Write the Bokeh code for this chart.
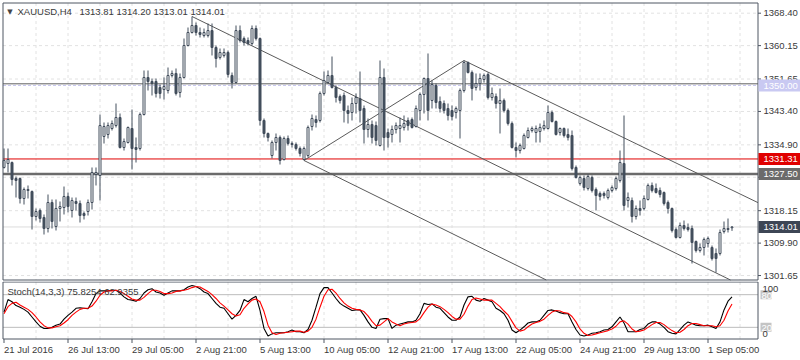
from bokeh.plotting import figure
from bokeh.layouts import column
from bokeh.models import ColumnDataSource
from bokeh.embed import file_html
from bokeh.resources import INLINE
from bokeh.core.properties import value

# ---------------- data ----------------
opens = [1329.14, 1330.16, 1330.41, 1326.34, 1326.34, 1321.25, 1323.54, 1323.03, 1316.67, 1318.20,
         1316.42, 1313.62, 1320.23, 1314.13, 1318.71, 1318.96, 1321.76, 1318.20, 1320.49, 1319.98,
         1317.43, 1317.94, 1320.23, 1327.36, 1327.10, 1337.03, 1337.53, 1339.06, 1339.82, 1341.86,
         1334.23, 1335.50, 1339.06, 1334.23, 1333.97, 1342.62, 1352.04, 1351.02, 1351.02, 1349.49,
         1348.98, 1348.73, 1352.55, 1353.06, 1348.22, 1352.04, 1360.18, 1363.49, 1365.27, 1363.49,
         1362.72, 1362.72, 1363.99, 1359.67, 1357.13, 1357.64, 1358.40, 1352.55, 1350.76, 1363.99,
         1361.96, 1361.45, 1360.69, 1364.50, 1361.96, 1341.10, 1337.79, 1332.19, 1335.50, 1336.77,
         1331.17, 1336.52, 1335.24, 1334.99, 1333.97, 1331.17, 1332.19, 1339.57, 1341.35, 1341.10,
         1347.97, 1350.76, 1352.55, 1349.49, 1347.20, 1347.46, 1343.64, 1343.13, 1345.42, 1346.69,
         1344.15, 1338.81, 1340.08, 1339.82, 1334.74, 1352.04, 1338.04, 1337.53, 1338.81, 1339.06,
         1339.32, 1341.10, 1341.35, 1339.57, 1343.64, 1347.71, 1351.78, 1346.19, 1350.00, 1345.93,
         1345.42, 1344.15, 1343.64, 1343.13, 1343.64, 1348.73, 1355.85, 1353.31, 1349.49, 1350.51,
         1351.53, 1352.80, 1346.95, 1347.20, 1345.42, 1346.19, 1343.64, 1340.33, 1334.23, 1333.46,
         1333.97, 1336.77, 1338.55, 1338.04, 1338.30, 1339.06, 1339.06, 1343.13, 1340.84, 1338.04,
         1339.06, 1337.53, 1337.28, 1329.14, 1325.07, 1326.34, 1323.79, 1326.59, 1323.54, 1322.52,
         1322.52, 1321.50, 1323.29, 1323.79, 1325.83, 1330.16, 1320.74, 1320.74, 1316.67, 1318.71,
         1318.71, 1321.00, 1324.56, 1323.79, 1323.29, 1322.78, 1320.23, 1318.71, 1313.36, 1311.33,
         1314.38, 1313.87, 1313.62, 1310.31, 1308.02, 1308.78, 1309.80, 1308.78, 1307.26, 1307.26,
         1312.85, 1313.36, 1313.81]
highs = [1333.97, 1333.97, 1330.66, 1326.85, 1326.59, 1324.05, 1324.56, 1323.29, 1318.71, 1318.71,
         1317.18, 1322.27, 1321.00, 1321.00, 1320.49, 1324.30, 1322.78, 1321.50, 1321.50, 1320.74,
         1317.94, 1321.00, 1329.14, 1329.14, 1342.62, 1340.59, 1340.59, 1341.10, 1345.42, 1342.88,
         1336.52, 1339.57, 1343.89, 1336.77, 1343.13, 1353.82, 1353.82, 1351.78, 1351.78, 1350.25,
         1352.04, 1354.58, 1353.82, 1354.33, 1353.06, 1361.96, 1364.76, 1367.56, 1366.03, 1364.76,
         1364.50, 1365.78, 1365.78, 1360.18, 1359.42, 1359.42, 1358.91, 1353.31, 1365.27, 1365.27,
         1362.47, 1362.22, 1365.27, 1365.27, 1362.22, 1341.61, 1338.04, 1336.01, 1337.79, 1337.28,
         1337.03, 1337.28, 1335.75, 1335.50, 1334.48, 1334.48, 1339.82, 1342.62, 1342.37, 1348.47,
         1353.56, 1353.82, 1357.38, 1350.00, 1347.71, 1348.22, 1344.91, 1346.95, 1347.97, 1353.56,
         1344.91, 1341.61, 1341.10, 1340.84, 1356.36, 1354.33, 1339.06, 1339.82, 1340.59, 1341.86,
         1342.37, 1341.86, 1341.86, 1344.91, 1348.22, 1352.04, 1358.15, 1351.27, 1350.51, 1347.20,
         1346.19, 1345.42, 1344.91, 1344.66, 1349.24, 1356.36, 1356.11, 1353.82, 1353.06, 1353.06,
         1353.06, 1353.31, 1349.49, 1347.97, 1349.24, 1346.69, 1344.15, 1340.84, 1335.50, 1335.24,
         1337.79, 1339.32, 1339.57, 1339.82, 1340.33, 1341.10, 1344.91, 1343.64, 1341.10, 1339.32,
         1339.32, 1339.06, 1338.55, 1329.65, 1327.10, 1327.10, 1327.36, 1327.10, 1324.05, 1323.03,
         1323.03, 1323.79, 1324.56, 1326.85, 1333.46, 1342.37, 1322.78, 1321.50, 1319.47, 1320.74,
         1322.01, 1325.07, 1325.32, 1325.07, 1324.05, 1323.03, 1320.74, 1318.96, 1313.87, 1315.14,
         1315.65, 1314.89, 1314.38, 1310.56, 1309.80, 1311.33, 1311.58, 1309.29, 1308.53, 1313.36,
         1315.40, 1316.16, 1314.20]
lows = [1328.88, 1327.87, 1324.56, 1321.50, 1319.98, 1319.72, 1321.25, 1313.36, 1315.65, 1315.14,
        1312.09, 1312.60, 1313.62, 1313.11, 1315.40, 1317.18, 1317.69, 1316.42, 1318.20, 1315.14,
        1315.91, 1316.92, 1318.45, 1324.56, 1320.74, 1335.24, 1336.52, 1338.55, 1339.32, 1333.97,
        1333.46, 1335.24, 1328.63, 1330.41, 1333.46, 1342.37, 1348.73, 1347.46, 1346.95, 1346.69,
        1346.44, 1347.97, 1352.04, 1347.46, 1346.95, 1351.78, 1359.93, 1363.23, 1362.72, 1362.22,
        1362.22, 1362.22, 1357.64, 1354.58, 1356.62, 1357.13, 1352.04, 1349.24, 1350.51, 1360.94,
        1360.18, 1360.18, 1360.18, 1361.45, 1339.82, 1336.77, 1335.75, 1331.43, 1333.46, 1329.90,
        1330.92, 1334.74, 1334.23, 1333.46, 1331.94, 1330.92, 1331.68, 1338.55, 1339.32, 1340.59,
        1347.46, 1350.51, 1349.24, 1345.68, 1345.42, 1340.59, 1340.33, 1341.10, 1342.88, 1340.59,
        1335.24, 1336.77, 1335.24, 1334.74, 1334.48, 1333.46, 1334.23, 1335.50, 1337.79, 1335.50,
        1338.55, 1338.55, 1339.06, 1339.32, 1341.10, 1342.88, 1341.10, 1344.15, 1344.15, 1343.13,
        1342.88, 1341.10, 1341.10, 1341.61, 1336.52, 1348.22, 1353.06, 1346.19, 1348.73, 1348.73,
        1350.76, 1346.44, 1346.19, 1344.15, 1337.79, 1343.13, 1339.82, 1333.97, 1331.68, 1332.70,
        1333.72, 1336.52, 1338.04, 1335.50, 1335.50, 1338.55, 1338.81, 1340.59, 1337.28, 1337.28,
        1336.77, 1336.01, 1328.37, 1326.34, 1324.56, 1323.29, 1323.29, 1322.78, 1318.20, 1320.74,
        1321.25, 1321.00, 1322.78, 1323.29, 1325.32, 1318.20, 1318.96, 1315.14, 1315.91, 1316.92,
        1318.20, 1320.74, 1322.78, 1322.52, 1321.50, 1319.47, 1317.43, 1312.60, 1311.07, 1311.07,
        1313.11, 1312.85, 1304.71, 1307.51, 1307.51, 1306.75, 1308.78, 1305.47, 1302.42, 1306.75,
        1312.34, 1312.60, 1313.01]
closes = [1330.92, 1331.17, 1326.08, 1325.83, 1321.25, 1323.54, 1323.29, 1316.67, 1317.94, 1316.16,
          1313.62, 1320.23, 1315.40, 1318.71, 1319.21, 1321.76, 1319.21, 1320.74, 1319.98, 1316.92,
          1316.92, 1320.23, 1327.87, 1327.87, 1339.82, 1339.57, 1339.82, 1340.33, 1341.86, 1334.23,
          1335.75, 1339.32, 1333.97, 1333.72, 1342.62, 1352.04, 1351.02, 1350.51, 1347.97, 1347.97,
          1349.75, 1352.55, 1353.06, 1347.97, 1352.04, 1360.18, 1363.49, 1365.27, 1363.49, 1362.98,
          1363.49, 1363.99, 1359.67, 1356.87, 1358.40, 1358.40, 1352.80, 1350.76, 1363.99, 1361.45,
          1360.94, 1360.69, 1364.50, 1361.96, 1341.10, 1337.79, 1336.77, 1335.50, 1336.77, 1330.92,
          1336.52, 1335.24, 1334.99, 1333.97, 1332.70, 1333.97, 1339.32, 1341.61, 1340.59, 1347.97,
          1351.27, 1352.55, 1349.49, 1346.95, 1346.19, 1343.64, 1342.88, 1345.42, 1346.95, 1343.64,
          1338.81, 1340.08, 1336.77, 1336.01, 1352.04, 1336.77, 1336.77, 1338.81, 1339.82, 1339.82,
          1340.33, 1339.82, 1339.32, 1344.15, 1347.71, 1351.78, 1343.64, 1350.25, 1345.68, 1344.15,
          1343.64, 1342.37, 1342.11, 1344.15, 1348.73, 1355.85, 1353.31, 1349.24, 1350.51, 1351.78,
          1352.55, 1346.95, 1347.97, 1345.42, 1346.19, 1343.64, 1340.33, 1334.23, 1333.46, 1334.74,
          1337.28, 1338.55, 1339.06, 1339.06, 1339.32, 1339.82, 1343.13, 1340.84, 1337.53, 1339.06,
          1337.28, 1336.77, 1328.88, 1326.59, 1326.59, 1324.05, 1326.85, 1323.29, 1322.01, 1321.76,
          1322.01, 1323.29, 1324.05, 1326.34, 1330.41, 1319.47, 1321.50, 1316.67, 1318.71, 1318.20,
          1321.25, 1324.56, 1323.29, 1322.78, 1322.27, 1319.98, 1318.71, 1313.11, 1311.33, 1314.38,
          1313.62, 1313.36, 1310.05, 1308.02, 1308.78, 1310.82, 1311.07, 1305.98, 1305.98, 1312.60,
          1313.62, 1313.62, 1314.01]

# Stochastic (14,3,3): %K (black) and %D (red)
stoch_k = [48, 71, 67, 60, 57, 53, 48, 39, 30, 22, 18, 18, 20, 24, 26, 35, 42, 48, 55, 56,
           55, 54, 67, 82, 87, 87, 87, 88, 88, 83, 76, 71, 70, 68, 73, 83, 89, 91, 85, 83,
           79, 83, 87, 87, 87, 89, 94, 97, 95, 91, 85, 82, 73, 64, 57, 55, 45, 35, 42, 51,
           71, 67, 73, 77, 51, 18, 4, 8, 10, 10, 10, 12, 15, 12, 12, 10, 16, 33, 57, 82,
           93, 93, 83, 73, 64, 59, 55, 51, 52, 52, 42, 30, 20, 18, 35, 36, 36, 18, 24, 26,
           28, 30, 30, 33, 45, 64, 62, 63, 57, 55, 47, 39, 33, 33, 39, 61, 76, 77, 70, 68,
           73, 70, 67, 55, 51, 45, 33, 15, 10, 15, 21, 28, 30, 30, 33, 42, 51, 52, 50, 47,
           45, 45, 30, 16, 6, 4, 6, 9, 10, 12, 15, 16, 21, 30, 39, 28, 12, 12, 12, 16,
           18, 26, 30, 30, 26, 20, 12, 9, 8, 16, 24, 30, 27, 24, 23, 23, 24, 21, 18, 30,
           52, 68, 75.83]
stoch_d = [45, 58, 64, 66, 61, 57, 53, 47, 39, 30, 23, 19, 19, 21, 23, 28, 34, 42, 48, 53,
           55, 55, 59, 68, 79, 85, 87, 87, 88, 86, 82, 77, 72, 70, 70, 75, 82, 88, 88, 86,
           82, 82, 83, 86, 87, 88, 90, 93, 95, 94, 90, 86, 80, 73, 65, 59, 52, 45, 41, 43,
           55, 63, 70, 72, 67, 49, 24, 10, 7, 9, 10, 11, 12, 13, 13, 11, 13, 20, 35, 57,
           77, 89, 90, 83, 73, 65, 59, 55, 53, 52, 49, 41, 31, 23, 24, 30, 36, 30, 26, 23,
           26, 28, 29, 30, 36, 47, 57, 63, 61, 58, 53, 47, 40, 35, 35, 44, 59, 71, 74, 72,
           70, 70, 70, 64, 58, 50, 43, 31, 19, 13, 15, 21, 26, 29, 31, 35, 42, 48, 51, 50,
           47, 46, 40, 30, 17, 9, 5, 6, 8, 10, 12, 14, 17, 22, 30, 32, 26, 17, 12, 13,
           15, 20, 25, 29, 29, 25, 19, 14, 10, 11, 16, 23, 27, 27, 25, 23, 23, 23, 21, 23,
           33, 50, 62.94]

# trend / channel lines (bar index, price)
trend_x0 = [47, 75, 75, 115]
trend_y0 = [1367.56, 1330.92, 1330.92, 1356.36]
trend_x1 = [189, 189, 115, 189]
trend_y1 = [1296.84, 1273.69, 1356.36, 1319.95]

# horizontal levels
level_1350_line = 1350.43
level_1350_alert = 1350.00
level_resist = 1331.31
level_support = 1327.50
last_price = 1314.01

price_ticks = [1368.40, 1360.15, 1351.65, 1343.40, 1334.90, 1326.65, 1318.15, 1309.90, 1301.65]
stoch_levels = [80, 20]
time_tick_bars = [0, 16, 32, 48, 64, 80, 96, 112, 128, 144, 160, 176]
time_tick_labels = ["21 Jul 2016", "26 Jul 13:00", "29 Jul 05:00", "2 Aug 21:00", "5 Aug 13:00",
                    "10 Aug 05:00", "12 Aug 21:00", "17 Aug 13:00", "22 Aug 05:00",
                    "24 Aug 21:00", "29 Aug 13:00", "1 Sep 05:00"]
title_symbol = "XAUUSD,H4"
title_ohlc = "1313.81 1314.20 1313.01 1314.01"
stoch_title = "Stoch(14,3,3) 75.8254 62.9355"

# ---------------- geometry / styling ----------------
CANDLE = "#434e5d"
FRAME = "#4e5663"
GRID = "#e2e2e2"
TXT = "#3a3a3a"
FONT = "Liberation Sans"
FS = "9.5px"

W, H_MAIN, H_STO = 800, 281, 79
BAR_PX = 4.0            # pixels per bar
BAR0_PX = 3.5           # pixel centre of bar 0
PRICE_PER_PX = 0.25444  # price scale of main panel
PRICE_AT_TOP = 1371.63  # price at pixel row 0
STO_PER_PX = 1.83684    # stochastic units per pixel
STO_AT_TOP = 104.2      # stochastic value at top of lower panel (abs. row 281)

BL, BR = 2.5, 757.5          # border columns (both panels)
MT, MB = 2.5, 279.5          # main border rows
ST, SB = 281.5, 338.5        # stochastic border rows (absolute)


def X(px):
    return (px - BAR0_PX) / BAR_PX


def MY(py):
    return PRICE_AT_TOP - py * PRICE_PER_PX


def SY(py):
    return STO_AT_TOP - (py - H_MAIN) * STO_PER_PX


bars = list(range(len(opens)))
src = ColumnDataSource(dict(
    x=bars, o=opens, h=highs, l=lows, c=closes,
    top=[max(a, b) for a, b in zip(opens, closes)],
    bot=[min(a, b) for a, b in zip(opens, closes)],
    fill=["white" if c >= o else CANDLE for o, c in zip(opens, closes)],
))

vgrid = [b for b in range(8, 200, 8) if X(BL) < b < X(BR)]


def base_fig(h, yr):
    f = figure(width=W, height=h, x_range=(X(0), X(W)), y_range=yr,
               output_backend="svg", toolbar_location=None, tools="",
               x_axis_location=None, y_axis_location=None,
               min_border=0, min_border_left=0, min_border_right=0,
               min_border_top=0, min_border_bottom=0)
    f.outline_line_color = None
    f.background_fill_color = "white"
    f.border_fill_color = "white"
    f.grid.visible = False
    return f


# ---------------- main price panel ----------------
p = base_fig(H_MAIN, (MY(H_MAIN), MY(0)))

# dashed grid
p.segment(x0=vgrid, y0=[MY(MT)] * len(vgrid), x1=vgrid, y1=[MY(MB)] * len(vgrid),
          line_color=GRID, line_dash="3 3", line_width=1)
p.segment(x0=[X(BL)] * len(price_ticks), y0=price_ticks, x1=[X(BR)] * len(price_ticks),
          y1=price_ticks, line_color=GRID, line_dash="3 3", line_width=1)

# horizontal levels
lv = [last_price, level_1350_alert, level_1350_line, level_resist, level_support]
lv_col = ["#dcdcdc", "#c9c9f0", "#5f5f5f", "#e00000", "#6b6b6b"]
lv_w = [1, 1, 1, 1, 2.5]
lv_dash = ["solid", "3 2", "solid", "solid", "solid"]
for v, col, w, d in zip(lv, lv_col, lv_w, lv_dash):
    p.segment(x0=[X(BL)], y0=[v], x1=[X(BR)], y1=[v], line_color=col, line_width=w, line_dash=d)

# channel lines (clipped to the chart box)
clip_right = X(BR)
tx1, ty1 = [], []
for x0, y0, x1, y1 in zip(trend_x0, trend_y0, trend_x1, trend_y1):
    if x1 > clip_right:
        y1 = y0 + (y1 - y0) * (clip_right - x0) / (x1 - x0)
        x1 = clip_right
    if y1 < MY(MB):
        x1 = x0 + (x1 - x0) * (MY(MB) - y0) / (y1 - y0)
        y1 = MY(MB)
    tx1.append(x1)
    ty1.append(y1)
p.segment(x0=trend_x0, y0=trend_y0, x1=tx1, y1=ty1, line_color="#5a5a5a", line_width=1)

# candles
p.segment(x0="x", y0="l", x1="x", y1="h", source=src, line_color=CANDLE, line_width=1)
p.vbar(x="x", width=0.5, top="top", bottom="bot", source=src, fill_color="fill",
       line_color=CANDLE, line_width=1)

# frame border
p.quad(left=[X(BL)], right=[X(BR)], bottom=[MY(MB)], top=[MY(MT)], fill_color=None,
       line_color=FRAME, line_width=1)

# price scale: ticks + labels
p.segment(x0=[X(BR)] * len(price_ticks), y0=price_ticks, x1=[X(BR + 3)] * len(price_ticks),
          y1=price_ticks, line_color=FRAME, line_width=1)
p.text(x=[X(763)] * len(price_ticks), y=price_ticks, text=["%.2f" % t for t in price_ticks],
       text_font=value(FONT), text_font_size=FS, text_color=TXT, text_align="left",
       text_baseline="middle")

# price boxes
box_prices = [level_1350_alert, level_resist, level_support, last_price]
box_cols = ["#c9c9f2", "#e00000", "#6b6b6b", "#3d4655"]
half_box = 6 * PRICE_PER_PX
p.quad(left=[X(758)] * 4, right=[X(W)] * 4, bottom=[b - half_box for b in box_prices],
       top=[b + half_box for b in box_prices], fill_color=box_cols, line_color=None)
p.text(x=[X(763)] * 4, y=box_prices, text=["%.2f" % b for b in box_prices],
       text_font=value(FONT), text_font_size=FS, text_color="white", text_align="left",
       text_baseline="middle")

# header
p.text(x=[X(9.5)], y=[MY(11)], text=["\u25bc"], text_font=value("DejaVu Sans"),
       text_font_size="7px", text_color="#444444", text_align="center", text_baseline="middle")
p.text(x=[X(17), X(79)], y=[MY(11), MY(11)], text=[title_symbol, title_ohlc],
       text_font=value(FONT), text_font_size=FS, text_color=TXT, text_baseline="middle")

# ---------------- stochastic panel ----------------
s = base_fig(H_STO, (SY(H_MAIN + H_STO), SY(H_MAIN)))
s.x_range = p.x_range

s.segment(x0=vgrid, y0=[SY(ST)] * len(vgrid), x1=vgrid, y1=[SY(SB)] * len(vgrid),
          line_color=GRID, line_dash="3 3", line_width=1)
s.segment(x0=[X(BL)] * 2, y0=stoch_levels, x1=[X(BR)] * 2, y1=stoch_levels,
          line_color="#bcbcbc", line_width=1)

s.line(bars, stoch_k, line_color="black", line_width=1.1)
s.line(bars, stoch_d, line_color="#ff0000", line_width=1.1)

s.quad(left=[X(BL)], right=[X(BR)], bottom=[SY(SB)], top=[SY(ST)], fill_color=None,
       line_color=FRAME, line_width=1)

# time axis ticks + labels
s.segment(x0=time_tick_bars, y0=[SY(SB)] * len(time_tick_bars), x1=time_tick_bars,
          y1=[SY(SB + 4)] * len(time_tick_bars), line_color=FRAME, line_width=1)
s.text(x=time_tick_bars, y=[SY(349)] * len(time_tick_bars), text=time_tick_labels,
       text_font=value(FONT), text_font_size=FS, text_color=TXT, text_align="left",
       text_baseline="middle")

# stochastic title and scale
s.text(x=[X(7)], y=[SY(291)], text=[stoch_title], text_font=value(FONT), text_font_size=FS,
       text_color=TXT, text_baseline="middle")
s.quad(left=[X(760)] * 2, right=[X(771)] * 2,
       bottom=[v - 4.5 * STO_PER_PX for v in stoch_levels],
       top=[v + 4.5 * STO_PER_PX for v in stoch_levels], fill_color="#c4c4c4", line_color=None)
s.text(x=[X(761)] * 2, y=stoch_levels, text=[str(v) for v in stoch_levels],
       text_font=value(FONT), text_font_size=FS, text_color="white", text_baseline="middle",
       y_offset=1)
s.text(x=[X(762), X(762)], y=[SY(288), SY(333)], text=["100", "0"], text_font=value(FONT),
       text_font_size=FS, text_color=TXT, text_baseline="middle")

layout = column(p, s, spacing=0)

open("out.html", "w").write(file_html(layout, INLINE))
